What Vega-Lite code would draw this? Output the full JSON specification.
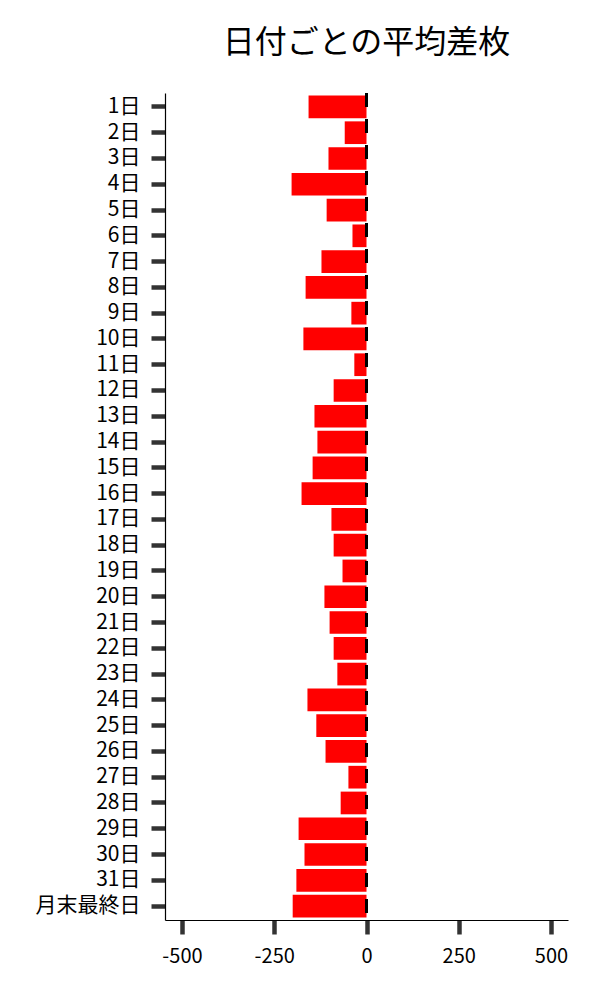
{
  "$schema": "https://vega.github.io/schema/vega-lite/v6.json",
  "autosize": "none",
  "padding": {"left": 165, "top": 93, "right": 32, "bottom": 80},
  "width": 403,
  "height": 827,
  "background": "white",
  "title": {
    "text": "日付ごとの平均差枚",
    "font": "Noto Sans CJK JP",
    "fontSize": 32,
    "fontWeight": "normal",
    "color": "black",
    "anchor": "middle",
    "frame": "group",
    "offset": 32
  },
  "data": {
    "values": [
      {"day": "1日", "diff": -157},
      {"day": "2日", "diff": -59},
      {"day": "3日", "diff": -103},
      {"day": "4日", "diff": -203},
      {"day": "5日", "diff": -108},
      {"day": "6日", "diff": -38},
      {"day": "7日", "diff": -122},
      {"day": "8日", "diff": -165},
      {"day": "9日", "diff": -41},
      {"day": "10日", "diff": -171},
      {"day": "11日", "diff": -33},
      {"day": "12日", "diff": -89},
      {"day": "13日", "diff": -141},
      {"day": "14日", "diff": -133},
      {"day": "15日", "diff": -146},
      {"day": "16日", "diff": -176},
      {"day": "17日", "diff": -95},
      {"day": "18日", "diff": -89},
      {"day": "19日", "diff": -65},
      {"day": "20日", "diff": -114},
      {"day": "21日", "diff": -100},
      {"day": "22日", "diff": -89},
      {"day": "23日", "diff": -79},
      {"day": "24日", "diff": -160},
      {"day": "25日", "diff": -136},
      {"day": "26日", "diff": -111},
      {"day": "27日", "diff": -49},
      {"day": "28日", "diff": -70},
      {"day": "29日", "diff": -184},
      {"day": "30日", "diff": -168},
      {"day": "31日", "diff": -190},
      {"day": "月末最終日", "diff": -200}
    ]
  },
  "layer": [
    {
      "mark": {"type": "bar", "color": "#ff0000"},
      "encoding": {
        "y": {
          "field": "day", "type": "nominal", "sort": null, "title": null,
          "scale": {"paddingInner": 0.12, "paddingOuter": 0.1},
          "axis": {
            "bandPosition": 0.5,
            "labelFont": "Noto Sans CJK JP", "labelFontSize": 21, "labelColor": "black",
            "labelPadding": 11,
            "tickColor": "#333333", "tickWidth": 4.5, "tickSize": 14,
            "domainColor": "black", "domainWidth": 1.2,
            "grid": false
          }
        },
        "x": {
          "field": "diff", "type": "quantitative", "title": null,
          "scale": {"domain": [-546, 546], "nice": false},
          "axis": {
            "values": [-500, -250, 0, 250, 500],
            "labelExpr": "replace(datum.label, '−', '-')",
            "labelFont": "Noto Sans CJK JP", "labelFontSize": 20, "labelColor": "black",
            "labelPadding": 12,
            "tickColor": "#333333", "tickWidth": 4.5, "tickSize": 14,
            "domainColor": "black", "domainWidth": 1.2,
            "grid": false
          }
        }
      }
    },
    {
      "mark": {"type": "rule", "color": "black", "strokeWidth": 2, "strokeDash": [14, 12]},
      "encoding": {"x": {"datum": 0}}
    }
  ],
  "config": {"view": {"stroke": "transparent"}}
}
